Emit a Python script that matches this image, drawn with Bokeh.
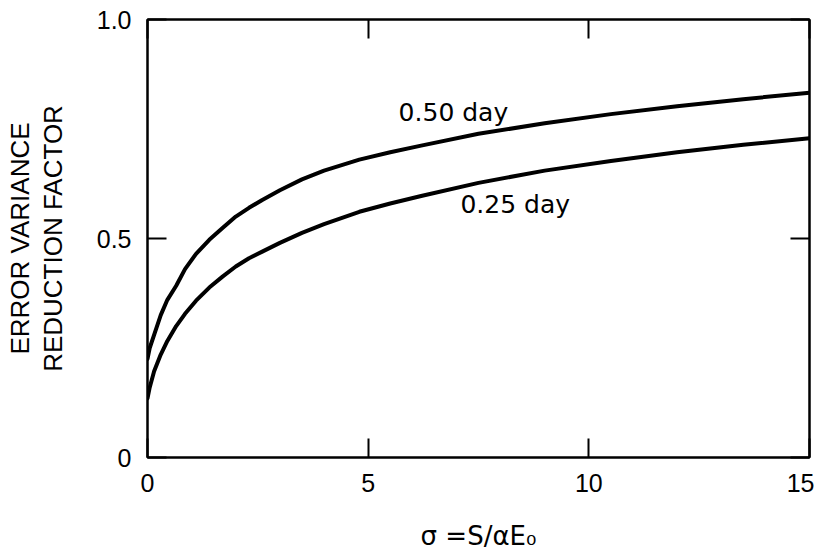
from bokeh.plotting import figure
from bokeh.models import Range1d, FixedTicker, LinearAxis, Label
from bokeh.embed import file_html
from bokeh.resources import INLINE

# ---- data ----
sigma = [0, 0.05, 0.15, 0.3, 0.45, 0.65, 0.85, 1.1, 1.4, 1.7, 2.0, 2.3, 2.6, 3.0,
         3.5, 4.0, 4.8, 5.5, 6.2, 7.5, 9.0, 10.5, 12.0, 13.5, 15]
day_050 = [0.225, 0.25, 0.28, 0.325, 0.36, 0.392, 0.43, 0.465, 0.497, 0.524,
           0.55, 0.57, 0.588, 0.61, 0.635, 0.655, 0.68, 0.697, 0.712, 0.739,
           0.763, 0.784, 0.802, 0.818, 0.833]
day_025 = [0.135, 0.16, 0.197, 0.235, 0.266, 0.30, 0.328, 0.358, 0.388, 0.413,
           0.436, 0.455, 0.47, 0.49, 0.513, 0.533, 0.561, 0.58, 0.597, 0.627,
           0.655, 0.677, 0.697, 0.714, 0.729]
x_ticks = [0, 5, 10, 15]
y_ticks = [0, 0.5, 1.0]
y_tick_labels = {0: "0", 0.5: "0.5", 1: "1.0"}
series_labels = ["0.50 day", "0.25 day"]
x_title = "σ =S/αE₀"
y_title = ["ERROR VARIANCE", "REDUCTION FACTOR"]

FONT = "Liberation Sans"
LFONT = "DejaVu Sans"

p = figure(frame_width=662, frame_height=438,
           min_border_left=147, min_border_right=5,
           min_border_top=19, min_border_bottom=88,
           x_range=Range1d(0, 15), y_range=Range1d(0, 1),
           output_backend="svg", toolbar_location=None,
           x_axis_location=None, y_axis_location=None)

p.xgrid.visible = False
p.ygrid.visible = False
p.outline_line_color = "black"
p.outline_line_width = 2
p.background_fill_color = "white"
p.border_fill_color = "white"


def style_axis(ax, show_labels):
    ax.axis_line_color = "black"
    ax.axis_line_width = 2
    ax.major_tick_line_color = "black"
    ax.major_tick_line_width = 2
    ax.major_tick_in = 19
    ax.major_tick_out = 0
    ax.minor_tick_line_color = None
    if show_labels:
        ax.major_label_text_font = FONT
        ax.major_label_text_font_size = "25px"
        ax.major_label_text_color = "black"
    else:
        ax.major_label_text_color = None
        ax.major_label_text_font_size = "1px"
        ax.major_label_standoff = 0


bottom = LinearAxis(ticker=FixedTicker(ticks=x_ticks))
style_axis(bottom, True)
bottom.major_label_standoff = 16
bottom.axis_label = x_title
bottom.axis_label_text_font = LFONT
bottom.axis_label_text_font_size = "26px"
bottom.axis_label_text_font_style = "normal"
bottom.axis_label_standoff = 26
bottom.axis_label_text_color = "black"

top = LinearAxis(ticker=FixedTicker(ticks=x_ticks))
style_axis(top, False)

left = LinearAxis(ticker=FixedTicker(ticks=y_ticks))
style_axis(left, True)
left.major_label_standoff = 16
left.major_label_overrides = y_tick_labels
left.axis_label = y_title[1]
left.axis_label_text_font = FONT
left.axis_label_text_font_size = "26px"
left.axis_label_text_font_style = "normal"
left.axis_label_standoff = 26
left.axis_label_text_color = "black"

# outer left axis only carries the first line of the two-line title
left2 = LinearAxis(ticker=FixedTicker(ticks=[]))
left2.axis_line_color = None
left2.major_tick_line_color = None
left2.minor_tick_line_color = None
left2.major_label_text_color = None
left2.major_label_text_font_size = "1px"
left2.major_label_standoff = 0
left2.axis_label = y_title[0]
left2.axis_label_text_font = FONT
left2.axis_label_text_font_size = "26px"
left2.axis_label_text_font_style = "normal"
left2.axis_label_standoff = 0
left2.axis_label_text_color = "black"

right = LinearAxis(ticker=FixedTicker(ticks=y_ticks))
style_axis(right, False)

p.add_layout(bottom, "below")
p.add_layout(top, "above")
p.add_layout(left, "left")
p.add_layout(left2, "left")
p.add_layout(right, "right")

p.line(sigma, day_050, line_color="black", line_width=4, line_join="round", line_cap="round")
p.line(sigma, day_025, line_color="black", line_width=4, line_join="round", line_cap="round")

# curve labels
p.add_layout(Label(x=5.69, y=0.788, text=series_labels[0], text_font=LFONT,
                   text_font_size="25px", text_align="left", text_baseline="middle",
                   text_color="black"))
p.add_layout(Label(x=7.09, y=0.578, text=series_labels[1], text_font=LFONT,
                   text_font_size="25px", text_align="left", text_baseline="middle",
                   text_color="black"))

open("out.html", "w").write(file_html(p, INLINE))
